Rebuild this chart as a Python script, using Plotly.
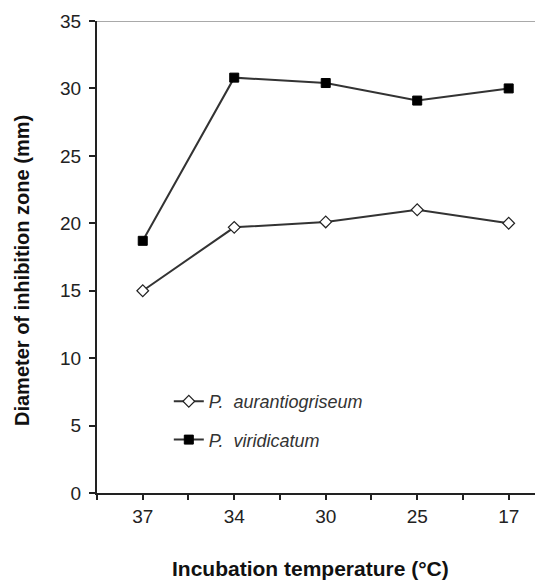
import plotly.graph_objects as go

temps = ["37", "34", "30", "25", "17"]
aurantiogriseum = [15.0, 19.7, 20.1, 21.0, 20.0]
viridicatum = [18.7, 30.8, 30.4, 29.1, 30.0]
y_ticks = [0, 5, 10, 15, 20, 25, 30, 35]

xpos = list(range(len(temps)))

fig = go.Figure()
fig.add_trace(go.Scatter(
    x=xpos, y=aurantiogriseum, mode="lines+markers",
    name="<i>P.  aurantiogriseum</i>", legendgroup="a",
    line=dict(color="#333", width=2),
    marker=dict(symbol="diamond", size=9, color="white", line=dict(color="#222", width=1.2)),
))
fig.add_trace(go.Scatter(
    x=xpos, y=viridicatum, mode="lines+markers",
    name="<i>P.  viridicatum</i>", legendgroup="b",
    line=dict(color="#333", width=2),
    marker=dict(symbol="square", size=9, color="black", line=dict(color="black", width=1)),
))

# page body has an 8px default margin, so the figure is 8px smaller and offset
font = "Liberation Sans, Arial, sans-serif"
fig.update_layout(
    width=535, height=573,
    margin=dict(l=89, r=0, t=13, b=88),
    paper_bgcolor="white", plot_bgcolor="white",
    font=dict(family=font, color="#222", size=19),
    showlegend=True,
    legend=dict(x=0.161, y=0.233, xanchor="left", yanchor="top",
                bgcolor="rgba(0,0,0,0)", font=dict(size=18, color="#333"),
                traceorder="grouped", tracegroupgap=12, itemsizing="trace"),
    xaxis=dict(
        range=[-0.5, 4.375], tickmode="array", tickvals=xpos, ticktext=temps,
        showgrid=False, zeroline=False, showline=True, linecolor="#222", linewidth=2,
        ticks="outside", ticklen=5, tickcolor="#222", tickwidth=1.5,
        minor=dict(tickvals=[-0.5, 0.5, 1.5, 2.5, 3.5], ticks="outside", ticklen=5,
                   tickcolor="#222", tickwidth=1.5, showgrid=False),
        tickfont=dict(size=19, color="#222"),
        automargin=False, fixedrange=True,
    ),
    yaxis=dict(
        range=[0, 35], tickmode="array", tickvals=y_ticks,
        showgrid=False, zeroline=False, showline=True, linecolor="#222", linewidth=2,
        ticks="outside", ticklen=6, tickcolor="#222", tickwidth=1.5,
        ticklabelstandoff=4,
        tickfont=dict(size=19, color="#222"),
        automargin=False, fixedrange=True,
    ),
    shapes=[dict(type="line", xref="paper", yref="y", x0=0, x1=1, y0=35, y1=35,
                 line=dict(color="#555", width=1))],
    annotations=[
        dict(text="<b>Diameter of inhibition zone (mm)</b>", xref="paper", yref="paper",
             x=(22 - 97) / 446, y=(493 - 271) / 472, textangle=-90, showarrow=False,
             xanchor="center", yanchor="middle", font=dict(size=20, color="#111")),
        dict(text="<b>Incubation temperature (°C)</b>", xref="paper", yref="paper",
             x=(310 - 97) / 446, y=(493 - 568) / 472, showarrow=False,
             xanchor="center", yanchor="middle", font=dict(size=21, color="#111")),
    ],
)

fig.write_html("out.html")
